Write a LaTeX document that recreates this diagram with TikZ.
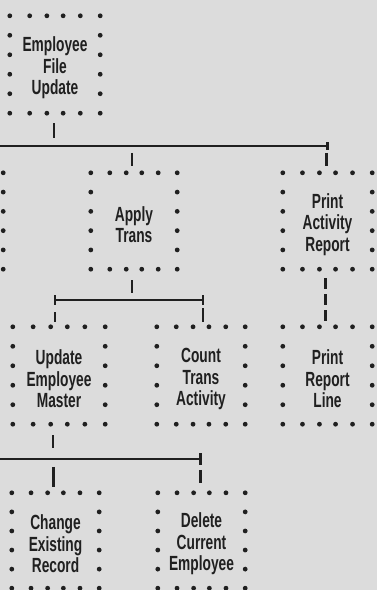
\documentclass[tikz,border=0pt]{standalone}
\usepackage{fontspec}
\setmainfont{Liberation Sans}[FakeStretch=0.67]
\usetikzlibrary{calc}
\definecolor{bg}{RGB}{220,220,220}
\definecolor{ink}{RGB}{32,32,32}
\tikzset{
  modbox/.style={inner sep=0pt},
  modtext/.style={inner sep=0pt, align=center, text=ink,
    font=\fontsize{20.5}{21.5}\selectfont\bfseries},
  conn/.style={draw=ink, line width=2.1pt},
  dconn/.style={draw=ink, line width=2.1pt, dash pattern=on 11pt off 5pt},
  dotmark/.style={fill=ink}
}
\newcommand\dotsfor[1]{%
  \foreach \f in {0,0.22,0.41,0.59,0.78,1}{%
    \fill[dotmark] ($(#1.north west)!\f!(#1.north east)$) circle (2.4pt);
    \fill[dotmark] ($(#1.south west)!\f!(#1.south east)$) circle (2.4pt);
  }%
  \foreach \f in {0.2,0.4,0.6,0.8}{%
    \fill[dotmark] ($(#1.north west)!\f!(#1.south west)$) circle (2.4pt);
    \fill[dotmark] ($(#1.north east)!\f!(#1.south east)$) circle (2.4pt);
  }%
}
% \mbox{name}{x}{y}{w}{h}{text}
\newcommand\modulebox[6]{%
  \node[modbox, minimum width=#4pt, minimum height=#5pt] (#1) at (#2,#3) {};
  \node[modtext] (#1-t) at ($(#1.center)+(0,3.5)$) {#6};
  \dotsfor{#1}%
}
\begin{document}
\begin{tikzpicture}[x=1pt,y=-1pt]
\fill[bg] (0,0) rectangle (377,590);
\useasboundingbox (0,0) rectangle (377,590);
\clip (0,0) rectangle (377,590);

% boxes
\modulebox{A}{55}{64.5}{90}{97}{Employee\\File\\Update}
\node[modbox, minimum width=87pt, minimum height=96pt] (L2) at (-40.5,221) {};
\dotsfor{L2}
\modulebox{AT}{134}{221}{86}{96}{Apply\\Trans}
\modulebox{PAR}{327.5}{221}{89}{96}{Print\\Activity\\Report}
\modulebox{UEM}{59}{375.5}{92}{97}{Update\\Employee\\Master}
\modulebox{CTA}{201}{375.5}{88}{97}{Count\\Trans\\Activity}
\modulebox{PRL}{327.5}{375.5}{89}{97}{Print\\Report\\Line}
\modulebox{CER}{55.5}{540.5}{87}{95}{Change\\Existing\\Record}
\modulebox{DCE}{201.5}{540.5}{87}{95}{Delete\\Current\\Employee}

% level 1 -> 2
\coordinate (b1) at (0,146);
\draw[conn] ($(A.south)+(-1,10)$) -- ($(A.south)+(-1,25)$);
\draw[conn] (b1) -- (b1 -| PAR.north);
\draw[conn] ($(b1 -| PAR.north)+(0,-4)$) -- ++(0,8);
\draw[conn] ($(AT.north)+(-2,-20)$) -- ($(AT.north)+(-2,-7)$);
\draw[conn] ($(PAR.north)+(-1,-20)$) -- ($(PAR.north)+(-1,-7)$);

% Apply Trans -> children
\coordinate (b2L) at (55,300);
\coordinate (b2R) at (203,300);
\draw[conn] ($(AT.south)+(-2,11)$) -- ($(AT.south)+(-2,24)$);
\draw[conn] (b2L) -- (b2R);
\draw[conn] ($(b2L)+(0,-5)$) -- ++(0,10);
\draw[conn] ($(b2R)+(0,-5)$) -- ++(0,10);
\draw[conn] ($(b2L)+(0,12)$) -- ($(b2L |- UEM.north)+(0,-5)$);
\draw[conn] ($(b2R)+(0,8)$) -- ($(b2R |- CTA.north)+(0,-5)$);

% Print Activity Report -> Print Report Line (dashed)
\draw[dconn] ($(PAR.south)+(-2,9)$) -- ($(PRL.north)+(-2,-5)$);

% Update Employee Master -> children
\coordinate (b3) at (0,459);
\draw[conn] ($(UEM.south)+(-6,11)$) -- ($(UEM.south)+(-6,24)$);
\draw[conn] (b3) -- ($(b3 -| DCE.north)+(-1,0)$);
\draw[conn] ($(b3 -| DCE.north)+(-1,-6)$) -- ++(0,12);
\draw[conn] ($(CER.north)+(-2,-26)$) -- ($(CER.north)+(-2,-6)$);
\draw[conn] ($(DCE.north)+(-1,-23)$) -- ($(DCE.north)+(-1,-10)$);
\end{tikzpicture}
\end{document}
